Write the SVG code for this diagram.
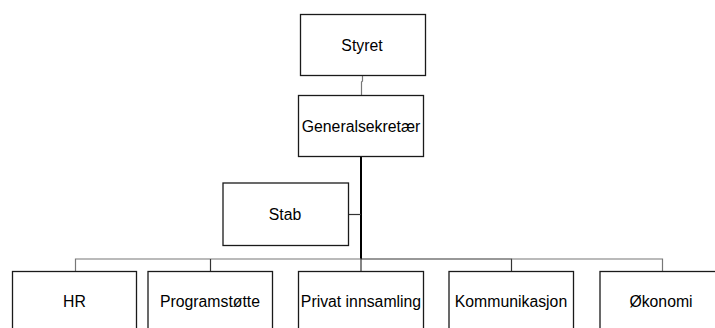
<svg xmlns="http://www.w3.org/2000/svg" width="715" height="328" viewBox="0 0 715 328">
<style>
.box{fill:#fff;stroke:#1a1a1a;stroke-width:1.3}
.t{font-family:"Liberation Sans",Arial,sans-serif;font-size:15.8px;fill:#000;text-anchor:middle}
.c{fill:none;stroke:#333;stroke-width:1.2}
.cg{fill:none;stroke:#777;stroke-width:1.2}
.main{fill:none;stroke:#000;stroke-width:2}
</style>
<rect width="715" height="328" fill="#fff"/>
<g id="connectors">
<path class="cg" d="M362.5 75 V81 L361.5 82 V95"/>
<path class="main" d="M361 157 V259"/>
<path class="c" d="M349 214.5 H361"/>
<path class="cg" d="M75.5 271 V259 H361"/>
<path class="c" d="M210.5 271 V259"/>
<path class="c" d="M361 259 H511.5 V271"/>
<path class="cg" d="M511.5 259 H662.5 V271"/>
<path class="c" d="M361 259 V271"/>
</g>
<g id="styret"><rect class="box" x="300.5" y="14.5" width="125" height="61"/><text class="t" x="362" y="51">Styret</text></g>
<g id="generalsekretaer"><rect class="box" x="298.5" y="95.5" width="125" height="61"/><text class="t" x="361" y="132">Generalsekretær</text></g>
<g id="stab"><rect class="box" x="223" y="183" width="125.5" height="62.5"/><text class="t" x="285" y="220">Stab</text></g>
<g id="hr"><rect class="box" x="12.5" y="271.5" width="124" height="70"/><text class="t" x="74.5" y="307">HR</text></g>
<g id="programstotte"><rect class="box" x="148" y="271.5" width="124.5" height="70"/><text class="t" x="210" y="307">Programstøtte</text></g>
<g id="privat"><rect class="box" x="298.5" y="271.5" width="125" height="70"/><text class="t" x="361" y="307">Privat innsamling</text></g>
<g id="kommunikasjon"><rect class="box" x="449" y="271.5" width="124.5" height="70"/><text class="t" x="511" y="307">Kommunikasjon</text></g>
<g id="okonomi"><rect class="box" x="600" y="271.5" width="124" height="70"/><text class="t" x="661" y="307">Økonomi</text></g>
</svg>
